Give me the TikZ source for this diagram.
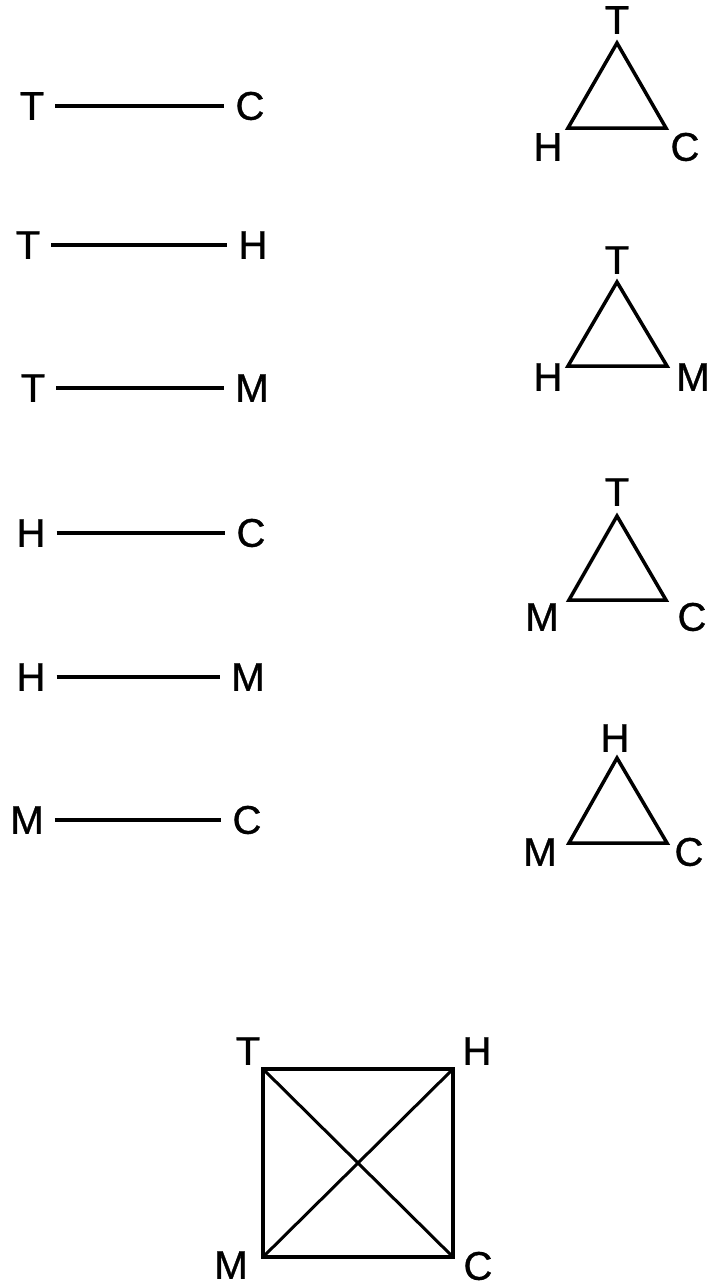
\documentclass[tikz,border=0pt]{standalone}
\usepackage{fontspec}
\setmainfont{Liberation Sans}[FakeBold=0.8]
\newfontfamily\lblfont{Liberation Sans}[FakeBold=0.8]
\begin{document}
\begin{tikzpicture}[x=1pt,y=-1pt,every node/.style={font=\lblfont\fontsize{40}{40}\selectfont,inner sep=11pt},edge/.style={line width=3.5pt},tri/.style={line width=3.5pt},diag/.style={line width=3pt}]
\useasboundingbox (0,0) rectangle (713,1286);
% pairs
\node (t1) at (32,106) {T};
\node (c1) at (250,106) {C};
\node (t2) at (28,245) {T};
\node (h2) at (253,245) {H};
\node (t3) at (33,388) {T};
\node (m3) at (252,388) {M};
\node (h4) at (31,533) {H};
\node (c4) at (251,533) {C};
\node (h5) at (31,677) {H};
\node (m5) at (248,677) {M};
\node (m6) at (27,820) {M};
\node (c6) at (247,820) {C};
\draw[edge] (t1) -- (c1);
\draw[edge] (t2) -- (h2);
\draw[edge] (t3) -- (m3);
\draw[edge] (h4) -- (c4);
\draw[edge] (h5) -- (m5);
\draw[edge] (m6) -- (c6);
% triads
\coordinate (thcT) at (617,43);
\coordinate (thcH) at (568,128);
\coordinate (thcC) at (666,128);
\node (thcTl) at (617,20) {T};
\node (thcHl) at (548,147) {H};
\node (thcCl) at (685,147) {C};
\draw[tri] (thcT) -- (thcH) -- (thcC) -- cycle;
\coordinate (thmT) at (617,282);
\coordinate (thmH) at (568,366);
\coordinate (thmM) at (667,366);
\node (thmTl) at (617,260) {T};
\node (thmHl) at (548,377) {H};
\node (thmMl) at (693,377) {M};
\draw[tri] (thmT) -- (thmH) -- (thmM) -- cycle;
\coordinate (tmcT) at (617,516);
\coordinate (tmcM) at (569,600);
\coordinate (tmcC) at (666,600);
\node (tmcTl) at (617,492) {T};
\node (tmcMl) at (542,617) {M};
\node (tmcCl) at (692,617) {C};
\draw[tri] (tmcT) -- (tmcM) -- (tmcC) -- cycle;
\coordinate (hmcH) at (617,758);
\coordinate (hmcM) at (569,843);
\coordinate (hmcC) at (667,843);
\node (hmcHl) at (615,738) {H};
\node (hmcMl) at (540,852) {M};
\node (hmcCl) at (689,852) {C};
\draw[tri] (hmcH) -- (hmcM) -- (hmcC) -- cycle;
% all four
\coordinate (sqT) at (263,1069);
\coordinate (sqH) at (453,1069);
\coordinate (sqC) at (453,1257);
\coordinate (sqM) at (263,1257);
\node (sqTl) at (248,1051) {T};
\node (sqHl) at (477,1051) {H};
\node (sqMl) at (231,1265) {M};
\node (sqCl) at (478,1266) {C};
\draw[tri] (sqT) -- (sqH) -- (sqC) -- (sqM) -- cycle;
\draw[diag] (sqT) -- (sqC);
\draw[diag] (sqH) -- (sqM);
\end{tikzpicture}
\end{document}
